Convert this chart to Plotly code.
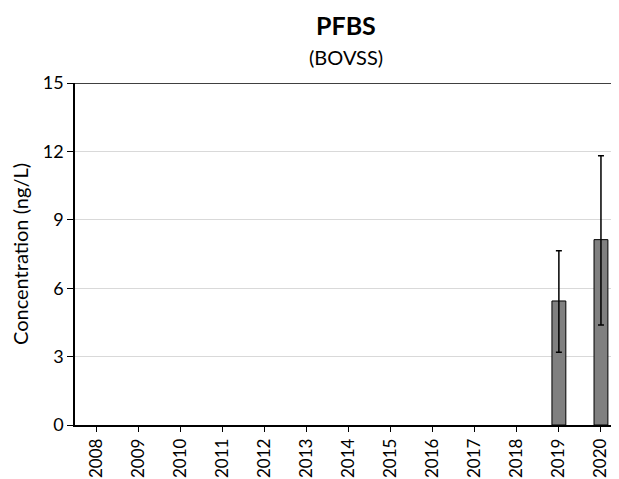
import plotly.graph_objects as go

years = [str(y) for y in range(2008, 2021)]
values = [None]*11 + [5.44, 8.13]
err_plus = [None]*11 + [2.2, 3.68]
err_minus = [None]*11 + [2.25, 3.74]

font = "Lato, Open Sans, sans-serif"

fig = go.Figure()
fig.add_trace(go.Bar(
    x=years, y=values,
    marker=dict(color="#808080", line=dict(color="#000000", width=1)),
    width=0.33,
    error_y=dict(type="data", symmetric=False, array=err_plus, arrayminus=err_minus,
                 color="#000000", thickness=1.5, width=3),
))

# page body has an 8px default margin, so the figure is offset by (8, 8)
fig.update_layout(
    width=619, height=479,
    margin=dict(l=67, r=5, t=75, b=62),
    paper_bgcolor="white", plot_bgcolor="white",
    showlegend=False,
    font=dict(family=font, color="#000000"),
)
fig.add_annotation(text="<b>PFBS</b>", xref="paper", yref="paper", x=0.5, y=1.0,
                   yanchor="middle", yshift=58, xshift=-3, showarrow=False,
                   font=dict(size=25, family=font))
fig.add_annotation(text="(BOVSS)", xref="paper", yref="paper", x=0.5, y=1.0,
                   yanchor="middle", yshift=26, xshift=-3, showarrow=False,
                   font=dict(size=20, family=font))

fig.update_xaxes(
    type="category", showline=True, linecolor="#000000", linewidth=1.5,
    ticks="outside", ticklen=5, tickcolor="#000000", tickangle=-90,
    tickfont=dict(size=17, family=font), showgrid=False, automargin=False,
)
fig.update_yaxes(
    range=[0, 15], tickvals=[0, 3, 6, 9, 12, 15], showline=True, linecolor="#000000",
    linewidth=1.5, ticks="outside", ticklen=6, tickcolor="#000000",
    tickfont=dict(size=18, family=font), showgrid=True, gridcolor="#d9d9d9", gridwidth=1,
    zeroline=False, automargin=False,
    title=dict(text="Concentration (ng/L)", font=dict(size=20, family=font), standoff=14),
)
fig.add_shape(type="line", xref="paper", yref="y", x0=0, x1=1, y0=15, y1=15,
              line=dict(color="#000000", width=1.5))

fig.write_html("out.html")
